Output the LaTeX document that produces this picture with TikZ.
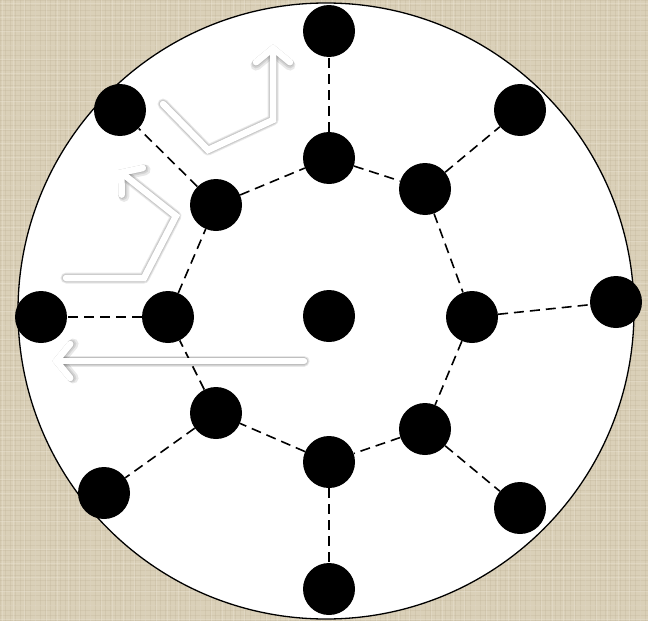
\documentclass[tikz,border=0pt]{standalone}
\usetikzlibrary{arrows.meta}
\definecolor{linen}{RGB}{218,208,184}
\definecolor{linendark}{RGB}{192,180,154}
\definecolor{linenlight}{RGB}{236,230,214}
\begin{document}
\begin{tikzpicture}[x=1pt,y=-1pt,
  dot/.style={circle,fill=black,draw=none,minimum size=52pt,inner sep=0pt},
  link/.style={dash pattern=on 10pt off 6pt,line width=1.6pt},
  warrow/.style={white,line width=6.5pt,line cap=round,line join=miter,-{Straight Barb[length=14pt,width=34pt,line cap=round]}},
  wshadow/.style={black,line width=#1,opacity=0.09,line cap=round,line join=round,-{Straight Barb[length=14pt,width=34pt,line cap=round]}}
]
\useasboundingbox (0,0) rectangle (648,621);
\fill[linen] (0,0) rectangle (648,621);
% faint linen texture
\foreach \i in {0,5,...,648} {\draw[linendark,opacity=0.30,line width=0.7pt] (\i,0) -- (\i,621);}
\foreach \j in {0,5,...,621} {\draw[linendark,opacity=0.30,line width=0.7pt] (0,\j) -- (648,\j);}
\foreach \i in {2,13,...,648} {\draw[linenlight,opacity=0.35,line width=0.8pt] (\i,0) -- (\i,621);}
\foreach \j in {3,17,...,621} {\draw[linenlight,opacity=0.35,line width=0.8pt] (0,\j) -- (648,\j);}
\draw[fill=white,line width=1.3pt] (326,311) circle (308);

% inner ring
\node[dot] (c) at (329,316) {};
\node[dot] (i1) at (329,158) {};
\node[dot] (i2) at (425,189) {};
\node[dot] (i3) at (472,317) {};
\node[dot] (i4) at (425,429) {};
\node[dot] (i5) at (329,462) {};
\node[dot] (i6) at (216,413) {};
\node[dot] (i7) at (168,317) {};
\node[dot] (i8) at (216,205) {};
% outer
\node[dot] (o1) at (329,31) {};
\node[dot] (o2) at (520,110) {};
\node[dot] (o3) at (616,302) {};
\node[dot] (o4) at (520,508) {};
\node[dot] (o5) at (329,589) {};
\node[dot] (o6) at (104,493) {};
\node[dot] (o7) at (41,317) {};
\node[dot] (o8) at (120,110) {};

\foreach \a/\b in {i1/i2,i2/i3,i3/i4,i4/i5,i5/i6,i6/i7,i7/i8,i8/i1,
                   i1/o1,i2/o2,i3/o3,i4/o4,i5/o5,i6/o6,i7/o7,i8/o8}
  \draw[link] (\a) -- (\b);

% white arrows with soft shadows
\coordinate (a1s) at (304,361);
\coordinate (a1e) at (52,361);
\coordinate (a2s) at (66,278);
\coordinate (a2m) at (144,278);
\coordinate (a2n) at (176,216);
\coordinate (a2e) at (118,170);
\coordinate (a3s) at (163,104);
\coordinate (a3m) at (208,150);
\coordinate (a3n) at (273,120);
\coordinate (a3e) at (273,44);

\foreach \w in {11pt,9pt,7.5pt}{
\begin{scope}[shift={(2,5)}]
\draw[wshadow=\w] (a1s) -- (a1e);
\draw[wshadow=\w] (a2s) -- (a2m) -- (a2n) -- (a2e);
\draw[wshadow=\w] (a3s) -- (a3m) -- (a3n) -- (a3e);
\end{scope}}
\draw[warrow] (a1s) -- (a1e);
\draw[warrow] (a2s) -- (a2m) -- (a2n) -- (a2e);
\draw[warrow] (a3s) -- (a3m) -- (a3n) -- (a3e);
\end{tikzpicture}
\end{document}
